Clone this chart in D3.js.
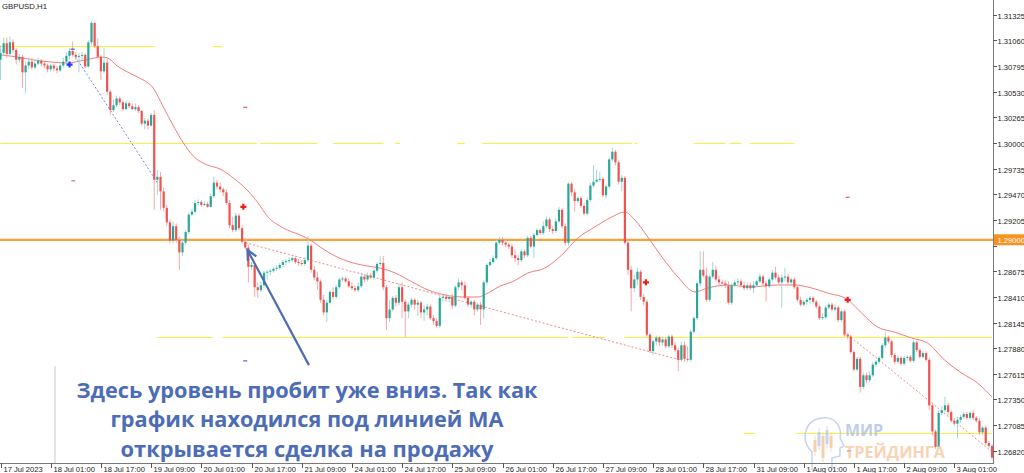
<!DOCTYPE html>
<html><head><meta charset="utf-8">
<script src="https://cdn.jsdelivr.net/npm/d3@7"></script>
<style>html,body{margin:0;padding:0;background:#fff;overflow:hidden}svg{display:block}</style>
</head><body><svg id="c" width="1024" height="473"></svg>
<script>
// ---------------- DATA ----------------
const symbolTitle = "GBPUSD,H1";
const firstOpen = 1.3086;
const closes = [
1.3093,1.3103,1.3092,1.3104,1.3096,1.3086,1.3089,1.3073,1.3080,1.3084,
1.3078,1.3082,1.3085,1.3082,1.3080,1.3076,1.3080,1.3077,1.3075,1.3080,
1.3084,1.3090,1.3095,1.3091,1.3089,1.3090,1.3091,1.3079,1.3104,1.3124,
1.3100,1.3089,1.3074,1.3083,1.3053,1.3034,1.3039,1.3046,1.3042,1.3035,
1.3041,1.3038,1.3035,1.3037,1.3033,1.3020,1.3023,1.3018,1.3029,1.2962,
1.2965,1.2950,1.2933,1.2918,1.2899,1.2914,1.2900,1.2887,1.2897,1.2908,
1.2926,1.2929,1.2938,1.2939,1.2936,1.2937,1.2934,1.2945,1.2959,1.2955,
1.2952,1.2949,1.2938,1.2915,1.2910,1.2925,1.2912,1.2898,1.2892,1.2872,
1.2874,1.2851,1.2848,1.2853,1.2866,1.2867,1.2868,1.2870,1.2871,1.2874,
1.2877,1.2878,1.2879,1.2881,1.2877,1.2876,1.2875,1.2879,1.2894,1.2869,
1.2861,1.2857,1.2838,1.2825,1.2835,1.2846,1.2841,1.2851,1.2859,1.2860,
1.2857,1.2852,1.2850,1.2848,1.2852,1.2862,1.2859,1.2863,1.2861,1.2868,
1.2875,1.2876,1.2851,1.2819,1.2828,1.2840,1.2835,1.2851,1.2836,1.2826,
1.2833,1.2838,1.2833,1.2835,1.2825,1.2828,1.2831,1.2819,1.2816,1.2811,
1.2840,1.2841,1.2839,1.2841,1.2832,1.2851,1.2856,1.2853,1.2840,1.2833,
1.2836,1.2828,1.2833,1.2828,1.2856,1.2874,1.2877,1.2881,1.2897,1.2900,
1.2897,1.2895,1.2893,1.2884,1.2881,1.2879,1.2888,1.2884,1.2902,1.2893,
1.2905,1.2910,1.2907,1.2914,1.2921,1.2911,1.2909,1.2919,1.2931,1.2914,
1.2897,1.2958,1.2949,1.2940,1.2943,1.2935,1.2927,1.2941,1.2956,1.2960,
1.2962,1.2963,1.2946,1.2955,1.2983,1.2991,1.2980,1.2960,1.2964,1.2897,
1.2869,1.2850,1.2859,1.2867,1.2841,1.2836,1.2802,1.2785,1.2795,1.2799,
1.2794,1.2797,1.2790,1.2800,1.2791,1.2786,1.2776,1.2791,1.2777,1.2776,
1.2805,1.2819,1.2855,1.2869,1.2863,1.2838,1.2862,1.2869,1.2859,1.2856,
1.2855,1.2853,1.2835,1.2853,1.2856,1.2857,1.2853,1.2850,1.2853,1.2850,
1.2853,1.2857,1.2862,1.2855,1.2852,1.2859,1.2866,1.2861,1.2856,1.2861,
1.2862,1.2856,1.2859,1.2851,1.2838,1.2833,1.2836,1.2838,1.2840,1.2836,
1.2831,1.2819,1.2820,1.2830,1.2833,1.2828,1.2830,1.2817,1.2826,1.2802,
1.2800,1.2784,1.2766,1.2777,1.2748,1.2760,1.2755,1.2760,1.2771,1.2774,
1.2778,1.2791,1.2799,1.2795,1.2781,1.2774,1.2778,1.2772,1.2778,1.2779,
1.2775,1.2794,1.2786,1.2779,1.2783,1.2776,1.2729,1.2702,1.2686,1.2721,
1.2724,1.2729,1.2722,1.2713,1.2710,1.2714,1.2717,1.2720,1.2716,1.2721,
1.2716,1.2713,1.2701,1.2706,1.2690,1.2687,1.2675
];
const highs = [
1.3101,1.3109,1.3109,1.3110,1.3107,1.3098,1.3092,1.3091,1.3084,1.3088,
1.3088,1.3086,1.3088,1.3087,1.3084,1.3082,1.3082,1.3082,1.3080,1.3082,
1.3088,1.3094,1.3098,1.3105,1.3094,1.3093,1.3094,1.3093,1.3106,1.3126,
1.3125,1.3108,1.3091,1.3098,1.3088,1.3055,1.3045,1.3049,1.3048,1.3044,
1.3043,1.3043,1.3041,1.3041,1.3039,1.3034,1.3026,1.3025,1.3031,1.3034,
1.2972,1.2970,1.2954,1.2936,1.2921,1.2919,1.2917,1.2903,1.2900,1.2910,
1.2928,1.2932,1.2941,1.2942,1.2941,1.2940,1.2939,1.2948,1.2965,1.2962,
1.2959,1.2954,1.2952,1.2941,1.2924,1.2928,1.2927,1.2915,1.2902,1.2895,
1.2877,1.2876,1.2856,1.2857,1.2868,1.2869,1.2870,1.2872,1.2874,1.2876,
1.2879,1.2880,1.2882,1.2883,1.2883,1.2880,1.2879,1.2882,1.2904,1.2896,
1.2873,1.2867,1.2859,1.2843,1.2838,1.2848,1.2851,1.2853,1.2861,1.2862,
1.2862,1.2860,1.2856,1.2853,1.2856,1.2866,1.2865,1.2866,1.2866,1.2871,
1.2877,1.2883,1.2883,1.2853,1.2838,1.2842,1.2843,1.2855,1.2856,1.2838,
1.2836,1.2840,1.2840,1.2838,1.2837,1.2833,1.2834,1.2833,1.2822,1.2819,
1.2842,1.2843,1.2844,1.2843,1.2844,1.2853,1.2860,1.2858,1.2857,1.2842,
1.2838,1.2838,1.2835,1.2836,1.2858,1.2876,1.2880,1.2884,1.2900,1.2903,
1.2903,1.2900,1.2897,1.2896,1.2890,1.2884,1.2890,1.2890,1.2904,1.2904,
1.2907,1.2912,1.2912,1.2919,1.2924,1.2923,1.2914,1.2922,1.2934,1.2933,
1.2917,1.2959,1.2960,1.2952,1.2945,1.2945,1.2938,1.2944,1.2959,1.2977,
1.2972,1.2970,1.2965,1.2957,1.2985,1.2995,1.2993,1.2982,1.2967,1.2966,
1.2900,1.2873,1.2864,1.2871,1.2869,1.2844,1.2838,1.2804,1.2797,1.2801,
1.2801,1.2800,1.2799,1.2802,1.2802,1.2794,1.2788,1.2795,1.2795,1.2790,
1.2807,1.2821,1.2857,1.2888,1.2888,1.2871,1.2864,1.2877,1.2873,1.2863,
1.2859,1.2858,1.2857,1.2855,1.2859,1.2860,1.2859,1.2857,1.2856,1.2856,
1.2857,1.2859,1.2865,1.2864,1.2858,1.2861,1.2869,1.2872,1.2864,1.2864,
1.2871,1.2865,1.2861,1.2861,1.2853,1.2841,1.2838,1.2840,1.2842,1.2842,
1.2838,1.2833,1.2824,1.2832,1.2835,1.2835,1.2833,1.2832,1.2828,1.2828,
1.2804,1.2802,1.2786,1.2779,1.2779,1.2763,1.2763,1.2764,1.2774,1.2776,
1.2780,1.2793,1.2805,1.2801,1.2797,1.2783,1.2781,1.2780,1.2780,1.2781,
1.2781,1.2796,1.2796,1.2788,1.2785,1.2785,1.2778,1.2732,1.2704,1.2724,
1.2728,1.2738,1.2732,1.2724,1.2716,1.2717,1.2719,1.2722,1.2722,1.2723,
1.2724,1.2718,1.2716,1.2708,1.2708,1.2692,1.2689
];
const lows = [
1.3065,1.3090,1.3088,1.3089,1.3093,1.3081,1.3083,1.3057,1.3052,1.3076,
1.3076,1.3076,1.3080,1.3079,1.3077,1.3073,1.3074,1.3074,1.3072,1.3073,
1.3078,1.3082,1.3086,1.3089,1.3086,1.3073,1.3086,1.3077,1.3078,1.3101,
1.3098,1.3087,1.3065,1.3072,1.3050,1.3029,1.3032,1.3037,1.3039,1.3033,
1.3034,1.3036,1.3034,1.3033,1.3031,1.3018,1.3014,1.3014,1.3017,1.2931,
1.2946,1.2931,1.2929,1.2914,1.2896,1.2896,1.2897,1.2869,1.2883,1.2895,
1.2906,1.2924,1.2927,1.2936,1.2934,1.2935,1.2933,1.2933,1.2943,1.2952,
1.2949,1.2945,1.2936,1.2912,1.2908,1.2908,1.2910,1.2896,1.2890,1.2856,
1.2869,1.2841,1.2840,1.2846,1.2850,1.2859,1.2863,1.2866,1.2868,1.2869,
1.2872,1.2874,1.2876,1.2877,1.2875,1.2873,1.2873,1.2873,1.2877,1.2866,
1.2858,1.2848,1.2835,1.2822,1.2815,1.2833,1.2838,1.2839,1.2849,1.2857,
1.2855,1.2850,1.2848,1.2846,1.2846,1.2850,1.2856,1.2857,1.2859,1.2859,
1.2866,1.2873,1.2848,1.2807,1.2815,1.2826,1.2831,1.2832,1.2819,1.2799,
1.2819,1.2830,1.2828,1.2821,1.2819,1.2816,1.2822,1.2817,1.2812,1.2809,
1.2809,1.2836,1.2836,1.2835,1.2829,1.2830,1.2848,1.2848,1.2838,1.2830,
1.2830,1.2822,1.2826,1.2812,1.2819,1.2853,1.2872,1.2875,1.2879,1.2895,
1.2894,1.2892,1.2890,1.2881,1.2877,1.2874,1.2877,1.2881,1.2882,1.2891,
1.2881,1.2903,1.2905,1.2905,1.2912,1.2908,1.2906,1.2907,1.2917,1.2912,
1.2894,1.2894,1.2945,1.2929,1.2938,1.2933,1.2925,1.2925,1.2939,1.2954,
1.2959,1.2960,1.2944,1.2943,1.2953,1.2981,1.2977,1.2957,1.2950,1.2895,
1.2864,1.2826,1.2846,1.2853,1.2838,1.2832,1.2800,1.2783,1.2781,1.2791,
1.2790,1.2791,1.2788,1.2788,1.2788,1.2784,1.2764,1.2774,1.2774,1.2774,
1.2774,1.2803,1.2817,1.2852,1.2861,1.2836,1.2836,1.2860,1.2857,1.2852,
1.2851,1.2850,1.2833,1.2833,1.2851,1.2853,1.2851,1.2848,1.2848,1.2848,
1.2845,1.2851,1.2855,1.2851,1.2836,1.2850,1.2857,1.2859,1.2853,1.2830,
1.2857,1.2853,1.2852,1.2849,1.2836,1.2831,1.2831,1.2833,1.2834,1.2834,
1.2829,1.2817,1.2817,1.2818,1.2828,1.2826,1.2826,1.2815,1.2815,1.2800,
1.2797,1.2782,1.2764,1.2764,1.2742,1.2746,1.2752,1.2753,1.2758,1.2769,
1.2772,1.2776,1.2789,1.2793,1.2778,1.2771,1.2772,1.2770,1.2770,1.2775,
1.2773,1.2773,1.2784,1.2777,1.2777,1.2774,1.2724,1.2698,1.2684,1.2684,
1.2719,1.2722,1.2719,1.2711,1.2708,1.2695,1.2711,1.2715,1.2714,1.2714,
1.2714,1.2711,1.2698,1.2698,1.2688,1.2685,1.2673
];
// moving average
const maBars = [0,5.4,10.5,15.9,21.3,25.5,28.7,31.8,34.1,37.2,42.3,45.5,48.4,51.9,55.1,58.3,61.4,65.9,70,74.2,78.6,82.1,85,90.1,95.5,98.7,101.9,106,111.4,116.8,121,125.8,131.2,136.3,141.7,147.1,152.2,155.4,159.2,163,168.1,173.5,178.9,184,189.4,194.8,199,202.2,206.3,210.8,215.9,221.3,225.4,231.8,238.8,247.7,253.1,258.5,263.6,269.7,274.4,279.5,284.9,290.4,295.4,300.9,306.3,311.4,316];
const maValues = [1.30909,1.30888,1.30858,1.30837,1.30826,1.30847,1.30868,1.30888,1.30878,1.30796,1.30703,1.30651,1.30579,1.30372,1.30176,1.30000,1.29866,1.29773,1.29731,1.29638,1.29514,1.29380,1.29246,1.29122,1.29049,1.28998,1.28925,1.28843,1.28770,1.28729,1.28708,1.28657,1.28564,1.28481,1.28430,1.28409,1.28409,1.28450,1.28522,1.28564,1.28657,1.28708,1.28843,1.29018,1.29132,1.29235,1.29287,1.29204,1.29029,1.28822,1.28616,1.28461,1.28502,1.28533,1.28512,1.28533,1.28533,1.28502,1.28450,1.28388,1.28244,1.28099,1.28047,1.27985,1.27934,1.27758,1.27624,1.27520,1.27376];

const priceTicks = ["1.31325","1.31060","1.30795","1.30530","1.30265","1.30000","1.29735","1.29470","1.29205","1.28940","1.28675","1.28410","1.28145","1.27880","1.27615","1.27350","1.27085","1.26820"];
const hiddenPriceTick = "1.28940"; // covered by the level label
const timeLabels = ["17 Jul 2023","18 Jul 01:00","18 Jul 17:00","19 Jul 09:00","20 Jul 01:00","20 Jul 17:00","21 Jul 09:00","24 Jul 01:00","24 Jul 17:00","25 Jul 09:00","26 Jul 01:00","26 Jul 17:00","27 Jul 09:00","28 Jul 01:00","28 Jul 17:00","31 Jul 09:00","1 Aug 01:00","1 Aug 17:00","2 Aug 09:00","3 Aug 01:00"];
const timeLabelBars = [0,16,32,48,64,80,96,112,128,144,160,176,192,208,224,240,256,272,288,304];

const keyLevel = 1.29000;
const keyLevelLabel = "1.29000";
// yellow round-number levels: [price, fromBar, toBar]
const roundLevelSegments = [
 [1.31,0,49.3],[1.31,67.8,70.7],
 [1.30,0,81.8],[1.30,82.8,101],[1.30,106,122],[1.30,125.8,127.3],[1.30,145.5,148],[1.30,153.5,201.2],[1.30,202,203],[1.30,221,231],[1.30,232.4,236.2],[1.30,238.8,253],
 [1.28,50,67.8],[1.28,70.7,181],[1.28,182,192.6],[1.28,199,316],
 [1.27,237,240.4],[1.27,253.7,316]
];
// trend lines: [bar1, price1, bar2, price2, colour]
const trendLines = [
 [23.9,1.3089,50,1.2959,"#7b7bff"],
 [78,1.2897,216.5,1.2776,"#f08a8a"],
 [270,1.2802,316,1.2681,"#f08a8a"]
];
// signal arrows: [bar, price, type]
const signals = [[22,1.3081,"buy"],[77.4,1.2934,"sell"],[205.7,1.2856,"sell"],[270,1.2838,"sell"]];
const tinyMarks = [[23,1.3097,"#3050ff"],[23.2,1.2961,"#c08080"],[78,1.3037,"#e06060"],[270,1.2944,"#e06060"],[78,1.2775,"#5060e0"],[270.5,1.2682,"#a060c0"]];
// annotation
const noteLines = ["Здесь уровень пробит уже вниз. Так как","график находился под линией МА","открывается сделка на продажу"];
const noteArrow = {tipBar:78.7, tipPrice:1.28895, tailBar:98.3, tailPrice:1.27705};
const logoTop = "МИР", logoBottom = "ТРЕЙДИНГА";

// ---------------- CHART ----------------
const svg = d3.select("#c");
const plotRight = 993, plotBottom = 463;
const x = d3.scaleLinear().domain([0, 316]).range([0.5, 992]);
const y = d3.scaleLinear().domain([1.26694, 1.31477]).range([plotBottom, 0]);

svg.append("defs").append("clipPath").attr("id","plot")
  .append("rect").attr("x",0).attr("y",0).attr("width",plotRight).attr("height",plotBottom);
const g = svg.append("g").attr("clip-path","url(#plot)");

// round levels (yellow)
g.selectAll("line.lvl").data(roundLevelSegments).join("line")
  .attr("x1",d=>x(d[1])).attr("x2",d=>x(d[2]))
  .attr("y1",d=>Math.round(y(d[0]))+0.5).attr("y2",d=>Math.round(y(d[0]))+0.5)
  .attr("stroke","#f8f23c").attr("stroke-width",1.2);

// key level (orange)
g.append("line").attr("x1",0).attr("x2",plotRight)
  .attr("y1",y(keyLevel)).attr("y2",y(keyLevel))
  .attr("stroke","#f7a23a").attr("stroke-width",2.2);

// trend lines
g.selectAll("line.tl").data(trendLines).join("line")
  .attr("x1",d=>x(d[0])).attr("y1",d=>y(d[1])).attr("x2",d=>x(d[2])).attr("y2",d=>y(d[3]))
  .attr("stroke",d=>d[4]).attr("stroke-width",1).attr("stroke-dasharray","2,2");

// MA
g.append("path").datum(maBars.map((b,i)=>[b,maValues[i]]))
  .attr("d",d3.line().x(d=>x(d[0])).y(d=>y(d[1])).curve(d3.curveMonotoneX))
  .attr("fill","none").attr("stroke","#f27c7c").attr("stroke-width",1);

// candles
const bars = closes.map((c,i)=>{
  const o = i ? closes[i-1] : firstOpen;
  return {i,o,c,h:Math.max(highs[i],o,c),l:Math.min(lows[i],o,c)};
});
const UP="#27a69a", DN="#ef5350", UPW="#9fd9d1", DNW="#f6a9a8";
const cg = g.append("g");
cg.selectAll("line.w").data(bars).join("line")
  .attr("x1",d=>x(d.i)).attr("x2",d=>x(d.i))
  .attr("y1",d=>y(d.h)).attr("y2",d=>y(d.l))
  .attr("stroke",d=>d.c>=d.o?UPW:DNW).attr("stroke-width",1);
cg.selectAll("rect.b").data(bars).join("rect")
  .attr("x",d=>x(d.i)-1.1).attr("width",2.2)
  .attr("y",d=>y(Math.max(d.o,d.c)))
  .attr("height",d=>Math.max(1,Math.abs(y(d.o)-y(d.c))))
  .attr("fill",d=>d.c>=d.o?UP:DN);

// tiny marks
g.selectAll("rect.tm").data(tinyMarks).join("rect")
  .attr("x",d=>x(d[0])-2).attr("y",d=>y(d[1])-0.5).attr("width",4).attr("height",1.2)
  .attr("fill",d=>d[2]);

// signal arrows
const sg = g.selectAll("g.sig").data(signals).join("g")
  .attr("transform",d=>`translate(${x(d[0])},${y(d[1])})`);
sg.append("path").attr("d","M-3,0H3M0,-3V3")
  .attr("stroke",d=>d[2]==="buy"?"#1d3cff":"#e8201c").attr("stroke-width",2.2);

// annotation arrow
{
  const tx=x(noteArrow.tipBar), ty=y(noteArrow.tipPrice), ex=x(noteArrow.tailBar), ey=y(noteArrow.tailPrice);
  const ang=Math.atan2(ey-ty, ex-tx), L=11, a=0.45;
  g.append("line").attr("x1",tx).attr("y1",ty).attr("x2",ex).attr("y2",ey)
    .attr("stroke","#4d6bb5").attr("stroke-width",2.2);
  g.append("path").attr("d",`M${tx+L*Math.cos(ang+a)},${ty+L*Math.sin(ang+a)}L${tx},${ty}L${tx+L*Math.cos(ang-a)},${ty+L*Math.sin(ang-a)}`)
    .attr("fill","none").attr("stroke","#4d6bb5").attr("stroke-width",2.2);
}

// logo watermark
{
  const lg = svg.append("g").attr("opacity",0.75);
  lg.append("path").attr("d","M812,470 L812,452 C800,440 804,420 822,418 C836,416 842,428 840,438 L844,446 L840,448 L840,456 L832,458 L832,470")
    .attr("fill","none").attr("stroke","#b4c6ea").attr("stroke-width",1.5);
  const ic = [[815,440,452,"#f6c08e"],[819,432,446,"#b4c6ea"],[823,436,458,"#f6c08e"],[827,430,444,"#b4c6ea"],[831,436,448,"#f6c08e"]];
  lg.selectAll("line.ic").data(ic).join("line").attr("x1",d=>d[0]).attr("x2",d=>d[0]).attr("y1",d=>d[1]-4).attr("y2",d=>d[2]+4).attr("stroke",d=>d[3]).attr("stroke-width",0.8);
  lg.selectAll("rect.ic").data(ic).join("rect").attr("x",d=>d[0]-1.5).attr("width",3).attr("y",d=>d[1]).attr("height",d=>d[2]-d[1]).attr("fill",d=>d[3]);
  lg.append("text").attr("x",845).attr("y",436).text(logoTop)
    .attr("font-family","Open Sans").attr("font-weight",700).attr("font-size",16).attr("fill","#a9bde6")
    .attr("textLength",38).attr("lengthAdjust","spacingAndGlyphs");
  lg.append("text").attr("x",845).attr("y",458).text(logoBottom)
    .attr("font-family","Open Sans").attr("font-weight",700).attr("font-size",16).attr("fill","#f7c59a")
    .attr("textLength",100).attr("lengthAdjust","spacingAndGlyphs");
}

// note box
svg.append("rect").attr("x",54).attr("y",366).attr("width",3).attr("height",97).attr("fill","#e4e4e4");
svg.append("rect").attr("x",56).attr("y",366).attr("width",502).attr("height",97).attr("fill","#ffffff");
const noteY=[398,427,457], noteW=[461,393,373];
svg.selectAll("text.note").data(noteLines).join("text")
  .attr("x",307).attr("y",(d,i)=>noteY[i]).attr("text-anchor","middle")
  .attr("font-family","Open Sans").attr("font-weight",700).attr("font-size",22)
  .attr("fill","#4d6cb6").attr("textLength",(d,i)=>noteW[i]).attr("lengthAdjust","spacingAndGlyphs")
  .text(d=>d);

// axes
const axisFont = "Liberation Sans";
svg.append("line").attr("x1",plotRight+0.5).attr("x2",plotRight+0.5).attr("y1",0).attr("y2",plotBottom+1).attr("stroke","#7a7a7a");
svg.append("line").attr("x1",0).attr("x2",plotRight+1).attr("y1",plotBottom+0.5).attr("y2",plotBottom+0.5).attr("stroke","#7a7a7a");
const pt = svg.selectAll("g.pt").data(priceTicks).join("g")
  .attr("transform",d=>`translate(${plotRight},${Math.round(y(+d))+0.5})`);
pt.append("line").attr("x1",0).attr("x2",4).attr("stroke","#555");
pt.filter(d=>d!==hiddenPriceTick).append("text").attr("x",4.5).attr("y",3).text(d=>d)
  .attr("font-family",axisFont).attr("font-size",7.6).attr("fill","#222");
// key level label
{
  const ky = y(keyLevel);
  svg.append("rect").attr("x",plotRight+1).attr("y",ky-5.5).attr("width",31).attr("height",11).attr("fill","#f7931e");
  svg.append("text").attr("x",plotRight+4.5).attr("y",ky+3).text(keyLevelLabel)
    .attr("font-family",axisFont).attr("font-size",7.6).attr("fill","#ffffff");
}
const tt = svg.selectAll("g.tt").data(timeLabels).join("g")
  .attr("transform",(d,i)=>`translate(${Math.round(x(timeLabelBars[i]))+0.5},${plotBottom})`);
tt.append("line").attr("y1",0).attr("y2",5).attr("stroke","#555");
tt.append("text").attr("x",2).attr("y",8.5).text(d=>d)
  .attr("font-family",axisFont).attr("font-size",7.6).attr("fill","#222");

// title
svg.append("text").attr("x",2).attr("y",9).text(symbolTitle)
  .attr("font-family",axisFont).attr("font-size",7.8).attr("fill","#222");
</script>
</body></html>
